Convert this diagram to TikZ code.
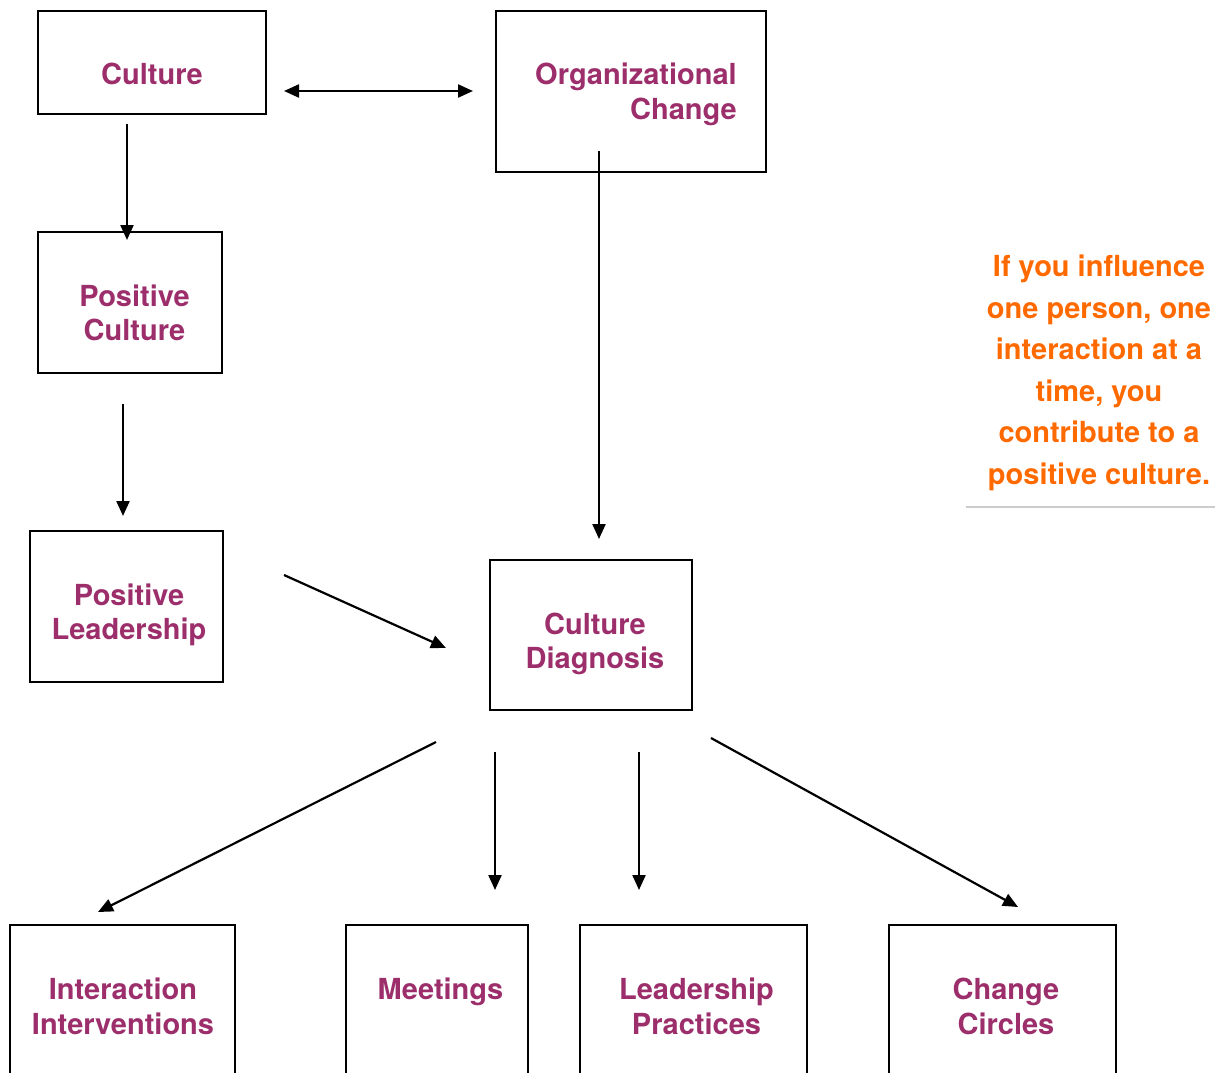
\documentclass[tikz,border=0pt]{standalone}
\usepackage{fontspec}
\setmainfont{TeX Gyre Heros}
\usetikzlibrary{arrows.meta}
\definecolor{plum}{HTML}{9C2F6B}
\definecolor{orng}{HTML}{FF6A00}
\definecolor{rule}{HTML}{CCCCCC}
\begin{document}
\begin{tikzpicture}[x=1pt,y=-1pt,
  box/.style={draw=black,line width=2.4pt,inner sep=0pt},
  lbl/.style={text=plum,font=\fontsize{29}{34.5}\selectfont\bfseries,align=center,inner sep=0pt,text height=21pt,text depth=0pt},
  note/.style={text=orng,font=\fontsize{29}{41.6}\selectfont\bfseries,align=center,inner sep=0pt,text height=21pt,text depth=0pt},
  arr/.style={line width=2.2pt,-{Triangle[length=15pt,width=13pt]}},
  darr/.style={line width=2.2pt,{Triangle[length=15pt,width=13pt]}-{Triangle[length=15pt,width=13pt]}}]
\useasboundingbox (0,0) rectangle (1215,1073);
% boxes
\node[box,minimum width=228pt,minimum height=103pt] (culture) at (152,62.5) {};
\node[box,minimum width=270pt,minimum height=161pt] (org) at (631,91.5) {};
\node[box,minimum width=184pt,minimum height=141pt] (poscult) at (130,302.5) {};
\node[box,minimum width=193pt,minimum height=151pt] (poslead) at (126.5,606.5) {};
\node[box,minimum width=202pt,minimum height=150pt] (diag) at (591,635) {};
\node[box,minimum width=225pt,minimum height=170pt] (inter) at (122.5,1010) {};
\node[box,minimum width=182pt,minimum height=170pt] (meet) at (437,1010) {};
\node[box,minimum width=227pt,minimum height=170pt] (lead) at (693.5,1010) {};
\node[box,minimum width=227pt,minimum height=170pt] (circ) at (1002.5,1010) {};
% labels
\node[lbl] (tculture) at (152,74) {Culture};
\node[lbl,align=right,anchor=east] (torg) at (737,108.5) {Organizational\\Change};
\node[lbl] (tposcult) at (134.5,330) {Positive\\Culture};
\node[lbl] (tposlead) at (129,629) {Positive\\Leadership};
\node[lbl] (tdiag) at (595,658) {Culture\\Diagnosis};
\node[lbl] (tinter) at (123,1023.5) {Interaction\\Interventions};
\node[lbl] (tmeet) at (440.5,989) {Meetings};
\node[lbl] (tlead) at (696.5,1023.5) {Leadership\\Practices};
\node[lbl] (tcirc) at (1006,1023.5) {Change\\Circles};
\node[note] (quote) at (1099,474) {If you influence\\one person, one\\interaction at a\\time, you\\contribute to a\\positive culture.};
% rule under quote
\coordinate (rl) at (966,507);
\coordinate (rr) at (1215,507);
\draw[rule,line width=2.4pt] (rl) -- (rr);
% connector end points
\coordinate (a1) at (284,91);   \coordinate (a2) at (473,91);
\coordinate (b1) at (127,124);  \coordinate (b2) at (127,240);
\coordinate (c1) at (123,404);  \coordinate (c2) at (123,516);
\coordinate (d1) at (599,151);  \coordinate (d2) at (599,539);
\coordinate (e1) at (284,575);  \coordinate (e2) at (446,648);
\coordinate (f1) at (436,742);  \coordinate (f2) at (98,912);
\coordinate (g1) at (495,752);  \coordinate (g2) at (495,890);
\coordinate (h1) at (639,752);  \coordinate (h2) at (639,890);
\coordinate (i1) at (711,738);  \coordinate (i2) at (1018,907);
\draw[darr] (a1) -- (a2);
\draw[arr] (b1) -- (b2);
\draw[arr] (c1) -- (c2);
\draw[arr] (d1) -- (d2);
\draw[arr] (e1) -- (e2);
\draw[arr] (f1) -- (f2);
\draw[arr] (g1) -- (g2);
\draw[arr] (h1) -- (h2);
\draw[arr] (i1) -- (i2);
\end{tikzpicture}
\end{document}
